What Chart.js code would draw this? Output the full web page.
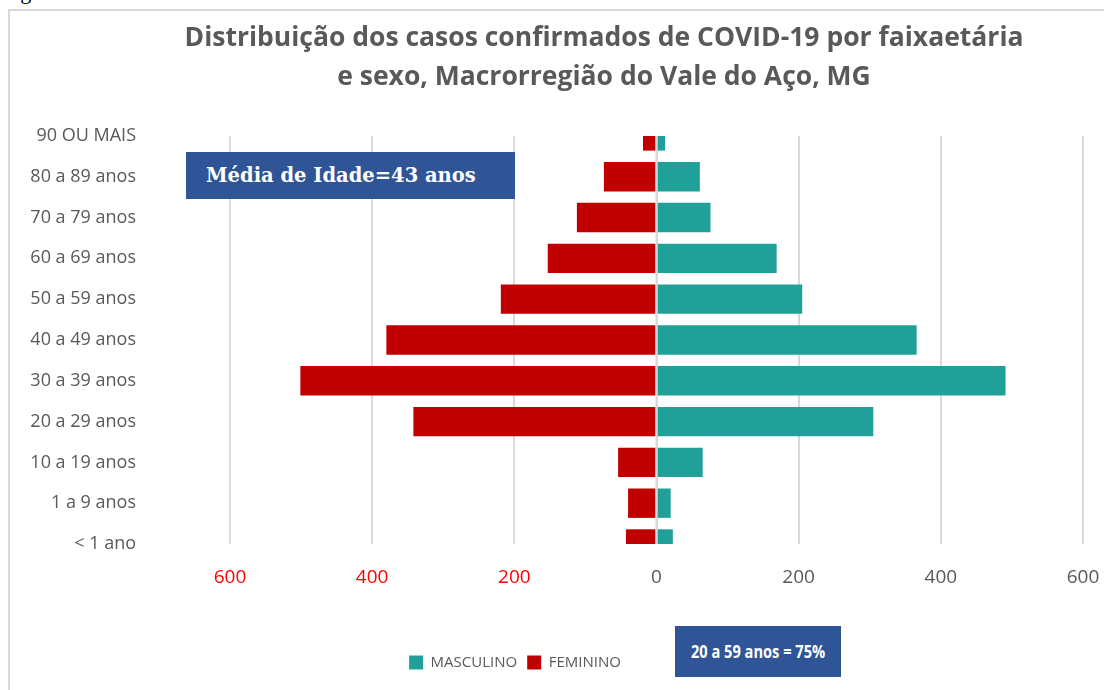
<!DOCTYPE html>
<html>
<head>
<meta charset="utf-8">
<script src="https://cdn.jsdelivr.net/npm/chart.js@4/dist/chart.umd.min.js"></script>
<style>
    body { margin: 0; background: #fff; overflow: hidden; }
    #wrap { position: relative; width: 1104px; height: 690px; }
    #frame { position: absolute; left: 8px; top: 9px; width: 1200px; height: 800px; border: 2px solid #d9d9d9; box-sizing: border-box; }
    #fig { position: absolute; left: 2px; top: -21px; font: 22px "Liberation Serif", serif; color: #000; }
    canvas { position: absolute; left: 0; top: 0; }
    .box { position: absolute; background: #2f5597; color: #fff; display: flex; align-items: center; }
    #media { left: 186px; top: 152px; width: 329px; height: 47px; font: bold 19.5px "DejaVu Serif", serif; padding-left: 20px; box-sizing: border-box; }
    #faixa { left: 675px; top: 626px; width: 166px; height: 51px; font: bold 17px "Open Sans", sans-serif; justify-content: center; }
    #faixa span { display: inline-block; transform: scaleX(0.86); white-space: nowrap; }
</style>
</head>
<body>
<div id="wrap">
    <div id="fig">Figura</div>
    <div id="frame"></div>
    <canvas id="myChart" width="1104" height="690"></canvas>
    <div class="box" id="media">Média de Idade=43 anos</div>
    <div class="box" id="faixa"><span>20 a 59 anos = 75%</span></div>
</div>
<script>
    let faixas = ['90 OU MAIS', '80 a 89 anos', '70 a 79 anos', '60 a 69 anos', '50 a 59 anos', '40 a 49 anos',
        '30 a 39 anos', '20 a 29 anos', '10 a 19 anos', '1 a 9 anos', '< 1 ano'];
    let masculino = [12, 61, 76, 169, 205, 366, 491, 305, 65, 20, 23];
    let feminino = [19, 74, 112, 153, 219, 380, 501, 342, 54, 40, 43];
    let xTicks = [-600, -400, -200, 0, 200, 400, 600];

    const grey = '#595959';

    // zero line is drawn over the bars in the original
    const zeroLine = {
        id: 'zeroLine',
        afterDatasetsDraw(chart) {
            let x = chart.scales.x.getPixelForValue(0);
            let area = chart.chartArea;
            let ctx = chart.ctx;
            ctx.save();
            ctx.strokeStyle = '#d9d9d9';
            ctx.lineWidth = 2;
            ctx.beginPath();
            ctx.moveTo(x, area.top);
            ctx.lineTo(x, area.bottom);
            ctx.stroke();
            ctx.restore();
        }
    };

    // title and legend are not centred on the canvas in the original
    const shiftBoxes = {
        id: 'shiftBoxes',
        afterLayout(chart) {
            chart.titleBlock.left += 52;
            chart.titleBlock.right += 52;
            chart.legend.left -= 37;
            chart.legend.right -= 37;
        }
    };

    let myChart = new Chart(document.getElementById('myChart'), {
        type: 'bar',
        data: {
            labels: faixas,
            datasets: [{
                label: 'MASCULINO',
                data: masculino,
                backgroundColor: '#21a09a',
                clip: 0
            }, {
                label: 'FEMININO',
                data: feminino.map(v => -v),
                backgroundColor: '#c00000',
                clip: 0
            }]
        },
        options: {
            indexAxis: 'y',
            responsive: false,
            animation: false,
            layout: { padding: { left: 0, right: 0, top: 0, bottom: 10 } },
            scales: {
                x: {
                    stacked: true,
                    min: -600,
                    max: 600,
                    afterBuildTicks: s => { s.ticks = xTicks.map(v => ({ value: v })); },
                    afterFit: s => {
                        s.height = 101;
                        s.paddingLeft = 0;
                        s.paddingRight = 21;
                    },
                    grid: { color: '#d9d9d9', lineWidth: 2, drawTicks: false },
                    border: { display: false },
                    ticks: {
                        padding: 22,
                        font: { family: 'Open Sans', size: 19 },
                        color: c => c.tick.value < 0 ? '#ff0000' : grey,
                        callback: v => Math.abs(v)
                    }
                },
                y: {
                    stacked: true,
                    offset: false,
                    afterFit: s => { s.width = 230; },
                    grid: { display: false, drawTicks: false },
                    border: { display: false },
                    ticks: {
                        padding: 94,
                        font: { family: 'Open Sans', size: 18 },
                        color: grey
                    }
                }
            },
            plugins: {
                title: {
                    display: true,
                    text: ['Distribuição dos casos confirmados de COVID-19 por faixaetária',
                        'e sexo, Macrorregião do Vale do Aço, MG'],
                    color: grey,
                    font: { family: 'Open Sans', size: 26.5, weight: 'bold', lineHeight: 1.47 },
                    padding: { top: 19, bottom: 39 }
                },
                legend: {
                    position: 'bottom',
                    labels: {
                        boxWidth: 14,
                        boxHeight: 14,
                        padding: 10,
                        color: grey,
                        font: { family: 'Open Sans', size: 15 }
                    }
                },
                tooltip: { enabled: false }
            }
        },
        plugins: [zeroLine, shiftBoxes]
    });
</script>
</body>
</html>
